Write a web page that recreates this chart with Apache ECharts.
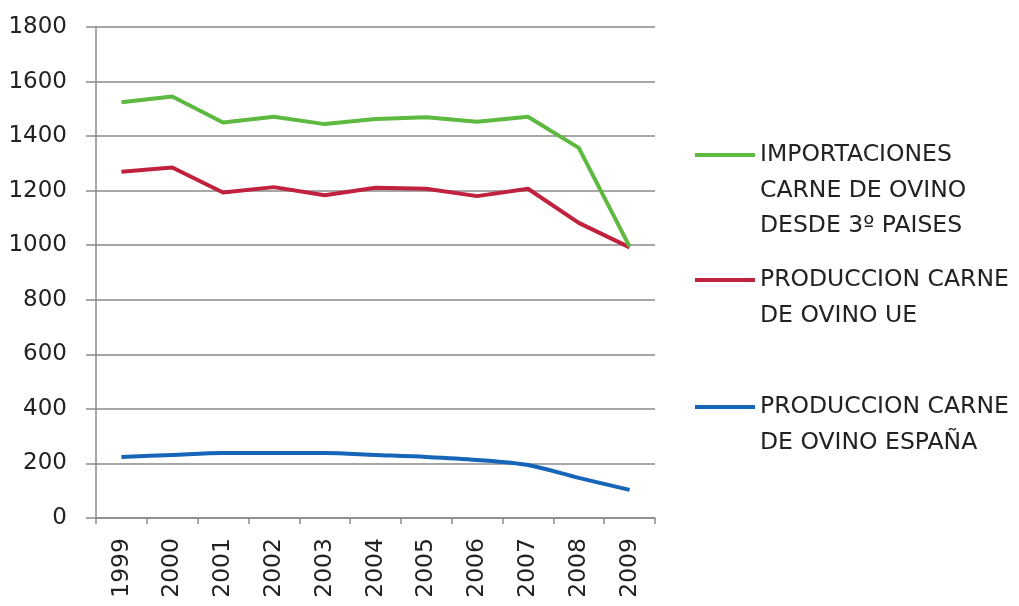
<!DOCTYPE html>
<html>
<head>
<meta charset="utf-8">
<script src="https://cdn.jsdelivr.net/npm/echarts@6/dist/echarts.min.js"></script>
<style>
  html, body { margin: 0; padding: 0; background: #fff; }
  #main { width: 1019px; height: 606px; }
</style>
</head>
<body>
<div id="main"></div>
<script>
// datos
const years = ['1999', '2000', '2001', '2002', '2003', '2004', '2005', '2006', '2007', '2008', '2009'];
const importaciones = [1524, 1545, 1450, 1471, 1444, 1463, 1469, 1453, 1471, 1357, 995];
const produccionUE = [1269, 1285, 1193, 1213, 1183, 1211, 1207, 1180, 1207, 1082, 992];
const produccionEspana = [224, 231, 238, 238, 238, 231, 224, 213, 194, 147, 103];

const seriesNames = [
  'IMPORTACIONES\nCARNE DE OVINO\nDESDE 3º PAISES',
  'PRODUCCION CARNE\nDE OVINO UE',
  'PRODUCCION CARNE\nDE OVINO ESPAÑA'
];
const colors = ['#5db940', '#c0213f', '#1565b8'];

const FONT = '"DejaVu Sans", sans-serif';
const LINE_H = 35.5;

// una leyenda por serie; se añaden líneas vacías delante para que
// el icono quede a la altura de la primera línea del texto
function legendFor(name, iconY) {
  const lines = name.split('\n').length;
  const total = 2 * lines - 1;
  return {
    data: [name],
    orient: 'vertical',
    left: 695,
    top: iconY - total * LINE_H / 2,
    padding: 0,
    icon: 'rect',
    itemWidth: 60,
    itemHeight: 4,
    itemGap: 0,
    selectedMode: false,
    formatter: (n) => ' \n'.repeat(lines - 1) + n,
    textStyle: {
      fontFamily: FONT,
      fontSize: 23.5,
      color: '#222',
      lineHeight: LINE_H
    }
  };
}

const chart = echarts.init(document.getElementById('main'), null, { renderer: 'canvas' });

chart.setOption({
  animation: false,
  backgroundColor: '#ffffff',
  color: colors,
  grid: { left: 96, right: 364, top: 27, bottom: 88, containLabel: false },
  legend: [
    legendFor(seriesNames[0], 155),
    legendFor(seriesNames[1], 280),
    legendFor(seriesNames[2], 407)
  ],
  xAxis: {
    type: 'category',
    data: years,
    boundaryGap: true,
    axisLine: { show: true, lineStyle: { color: '#8a8a8a', width: 1.5 } },
    axisTick: { show: true, alignWithLabel: false, length: 6, lineStyle: { color: '#8a8a8a', width: 1.5 } },
    axisLabel: {
      rotate: 90,
      margin: 20,
      fontFamily: FONT,
      fontSize: 23.5,
      color: '#222'
    },
    splitLine: { show: false }
  },
  yAxis: {
    type: 'value',
    min: 0,
    max: 1800,
    interval: 200,
    axisLine: { show: true, lineStyle: { color: '#8a8a8a', width: 1.5 } },
    axisTick: { show: true, inside: false, length: 10, lineStyle: { color: '#8a8a8a', width: 1.5 } },
    axisLabel: {
      margin: 29,
      fontFamily: FONT,
      fontSize: 23,
      color: '#222',
      formatter: (v) => String(v)
    },
    splitLine: { show: true, lineStyle: { color: '#8a8a8a', width: 1.5 } }
  },
  series: [
    {
      name: seriesNames[0],
      type: 'line',
      data: importaciones,
      symbol: 'none',
      lineStyle: { width: 4, color: colors[0] },
      z: 3
    },
    {
      name: seriesNames[1],
      type: 'line',
      data: produccionUE,
      symbol: 'none',
      lineStyle: { width: 4, color: colors[1] },
      z: 2
    },
    {
      name: seriesNames[2],
      type: 'line',
      data: produccionEspana,
      symbol: 'none',
      smooth: 0.3,
      lineStyle: { width: 4, color: colors[2] },
      z: 2
    }
  ]
});
</script>
</body>
</html>
